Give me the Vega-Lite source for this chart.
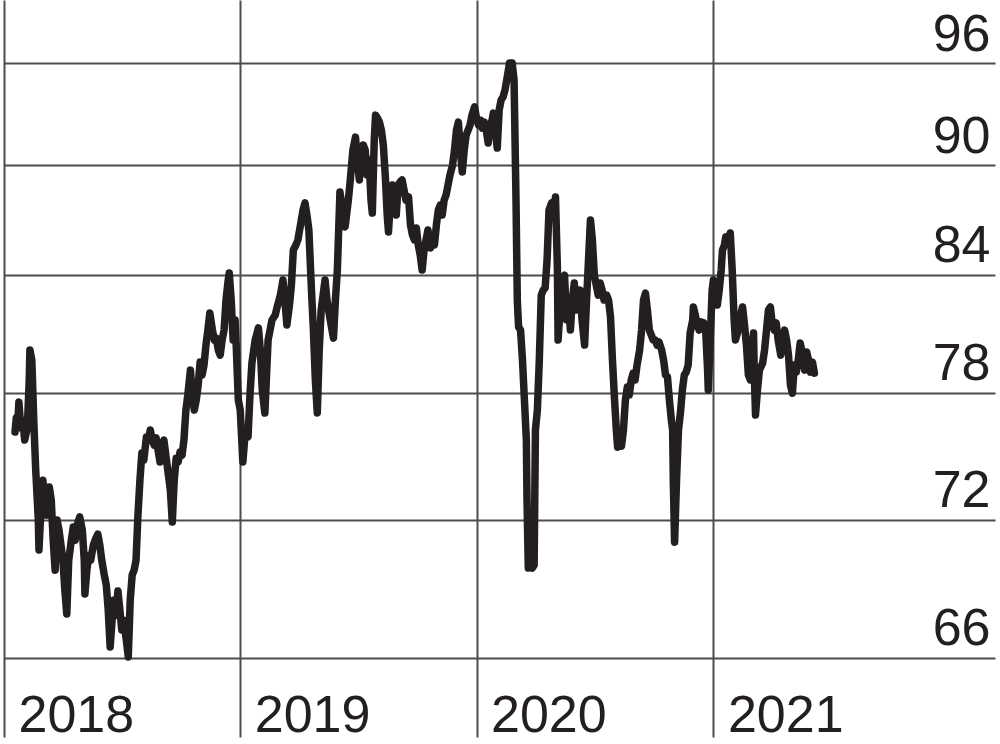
{
  "$schema": "https://vega.github.io/schema/vega-lite/v6.json",
  "width": 991,
  "height": 737,
  "autosize": {"type": "none"},
  "padding": {"left": 4, "top": 0, "right": 5, "bottom": 7},
  "background": "#ffffff",
  "config": {
    "view": {"stroke": null},
    "font": "Liberation Sans"
  },
  "data": {"values": [
    {"date":"2018-01-18","value":76.08},{"date":"2018-01-20","value":76.76},{"date":"2018-01-23","value":76.90},{"date":"2018-01-24","value":77.53},
    {"date":"2018-01-27","value":76.28},{"date":"2018-01-30","value":76.66},{"date":"2018-02-02","value":75.70},{"date":"2018-02-06","value":76.28},
    {"date":"2018-02-09","value":78.62},{"date":"2018-02-10","value":80.12},{"date":"2018-02-13","value":79.61},{"date":"2018-02-16","value":76.66},
    {"date":"2018-02-19","value":74.28},{"date":"2018-02-23","value":71.98},{"date":"2018-02-24","value":70.63},{"date":"2018-02-27","value":72.43},
    {"date":"2018-03-02","value":73.81},{"date":"2018-03-05","value":72.89},{"date":"2018-03-08","value":72.20},{"date":"2018-03-12","value":73.49},
    {"date":"2018-03-15","value":72.89},{"date":"2018-03-18","value":71.07},{"date":"2018-03-21","value":69.74},{"date":"2018-03-24","value":71.98},
    {"date":"2018-03-27","value":71.52},{"date":"2018-03-30","value":70.85},{"date":"2018-04-02","value":70.18},{"date":"2018-04-05","value":68.87},
    {"date":"2018-04-08","value":67.84},{"date":"2018-04-11","value":70.18},{"date":"2018-04-15","value":71.07},{"date":"2018-04-18","value":71.66},
    {"date":"2018-04-21","value":71.07},{"date":"2018-04-24","value":71.75},{"date":"2018-04-28","value":72.12},{"date":"2018-05-02","value":71.52},
    {"date":"2018-05-05","value":70.18},{"date":"2018-05-06","value":68.70},{"date":"2018-05-09","value":69.74},{"date":"2018-05-12","value":70.40},
    {"date":"2018-05-15","value":70.18},{"date":"2018-05-19","value":70.85},{"date":"2018-05-23","value":71.16},{"date":"2018-05-26","value":71.34},
    {"date":"2018-05-29","value":70.85},{"date":"2018-06-01","value":70.18},{"date":"2018-06-05","value":69.52},{"date":"2018-06-08","value":69.09},
    {"date":"2018-06-11","value":68.01},{"date":"2018-06-14","value":66.44},{"date":"2018-06-17","value":67.58},{"date":"2018-06-20","value":68.44},
    {"date":"2018-06-23","value":67.79},{"date":"2018-06-26","value":68.83},{"date":"2018-06-29","value":68.01},{"date":"2018-07-02","value":67.16},
    {"date":"2018-07-05","value":67.58},{"date":"2018-07-09","value":66.73},{"date":"2018-07-12","value":66.03},{"date":"2018-07-15","value":68.44},
    {"date":"2018-07-18","value":69.52},{"date":"2018-07-21","value":69.74},{"date":"2018-07-24","value":70.18},{"date":"2018-07-27","value":72.25},
    {"date":"2018-07-30","value":73.81},{"date":"2018-08-02","value":75.08},{"date":"2018-08-05","value":74.75},{"date":"2018-08-09","value":75.84},
    {"date":"2018-08-12","value":75.70},{"date":"2018-08-15","value":76.18},{"date":"2018-08-18","value":75.70},{"date":"2018-08-21","value":75.46},
    {"date":"2018-08-24","value":75.80},{"date":"2018-08-27","value":75.22},{"date":"2018-08-30","value":74.66},{"date":"2018-09-02","value":75.46},
    {"date":"2018-09-05","value":75.70},{"date":"2018-09-08","value":74.98},{"date":"2018-09-11","value":74.28},{"date":"2018-09-15","value":73.35},
    {"date":"2018-09-18","value":71.89},{"date":"2018-09-21","value":73.81},{"date":"2018-09-24","value":74.84},{"date":"2018-09-27","value":74.66},
    {"date":"2018-09-30","value":75.13},{"date":"2018-10-03","value":74.98},{"date":"2018-10-06","value":75.70},{"date":"2018-10-09","value":77.14},
    {"date":"2018-10-12","value":77.88},{"date":"2018-10-16","value":79.11},{"date":"2018-10-19","value":77.88},{"date":"2018-10-22","value":77.14},
    {"date":"2018-10-25","value":77.63},{"date":"2018-10-28","value":78.37},{"date":"2018-10-31","value":79.51},{"date":"2018-11-03","value":78.87},
    {"date":"2018-11-06","value":79.36},{"date":"2018-11-09","value":80.37},{"date":"2018-11-12","value":81.13},{"date":"2018-11-15","value":82.01},
    {"date":"2018-11-19","value":81.13},{"date":"2018-11-22","value":80.62},{"date":"2018-11-25","value":80.72},{"date":"2018-11-28","value":80.12},
    {"date":"2018-12-01","value":79.86},{"date":"2018-12-04","value":80.62},{"date":"2018-12-07","value":81.13},{"date":"2018-12-10","value":82.68},
    {"date":"2018-12-13","value":83.62},{"date":"2018-12-15","value":84.10},{"date":"2018-12-18","value":82.68},{"date":"2018-12-21","value":80.62},
    {"date":"2018-12-24","value":81.65},{"date":"2018-12-26","value":80.12},{"date":"2018-12-29","value":77.63},{"date":"2019-01-01","value":77.14},
    {"date":"2019-01-05","value":74.66},{"date":"2019-01-09","value":76.18},{"date":"2019-01-13","value":75.84},{"date":"2019-01-16","value":77.88},
    {"date":"2019-01-19","value":79.46},{"date":"2019-01-24","value":80.62},{"date":"2019-01-29","value":81.24},{"date":"2019-02-01","value":80.12},
    {"date":"2019-02-04","value":78.12},{"date":"2019-02-08","value":77.00},{"date":"2019-02-13","value":80.62},{"date":"2019-02-16","value":81.13},
    {"date":"2019-02-19","value":81.65},{"date":"2019-02-24","value":81.90},{"date":"2019-02-27","value":82.32},{"date":"2019-03-04","value":82.94},
    {"date":"2019-03-08","value":83.73},{"date":"2019-03-11","value":82.68},{"date":"2019-03-14","value":81.39},{"date":"2019-03-18","value":82.42},
    {"date":"2019-03-21","value":83.46},{"date":"2019-03-24","value":85.33},{"date":"2019-03-28","value":85.60},{"date":"2019-03-31","value":85.87},
    {"date":"2019-04-04","value":86.68},{"date":"2019-04-08","value":87.51},{"date":"2019-04-11","value":87.90},{"date":"2019-04-14","value":87.23},
    {"date":"2019-04-17","value":86.41},{"date":"2019-04-21","value":83.20},{"date":"2019-04-24","value":81.13},{"date":"2019-04-27","value":78.62},
    {"date":"2019-04-30","value":77.00},{"date":"2019-05-03","value":80.12},{"date":"2019-05-06","value":82.16},{"date":"2019-05-09","value":82.94},
    {"date":"2019-05-12","value":83.73},{"date":"2019-05-15","value":82.68},{"date":"2019-05-20","value":81.65},{"date":"2019-05-25","value":80.72},
    {"date":"2019-05-28","value":82.68},{"date":"2019-05-31","value":84.26},{"date":"2019-06-04","value":88.51},{"date":"2019-06-09","value":87.23},
    {"date":"2019-06-12","value":86.58},{"date":"2019-06-17","value":88.06},{"date":"2019-06-20","value":89.18},{"date":"2019-06-24","value":90.88},
    {"date":"2019-06-28","value":91.62},{"date":"2019-07-01","value":90.31},{"date":"2019-07-04","value":89.18},{"date":"2019-07-07","value":90.31},
    {"date":"2019-07-10","value":91.17},{"date":"2019-07-13","value":90.88},{"date":"2019-07-16","value":89.46},{"date":"2019-07-19","value":90.31},
    {"date":"2019-07-22","value":88.06},{"date":"2019-07-24","value":87.34},{"date":"2019-07-27","value":91.45},{"date":"2019-07-29","value":92.90},
    {"date":"2019-08-01","value":92.73},{"date":"2019-08-04","value":92.49},{"date":"2019-08-07","value":92.03},{"date":"2019-08-10","value":91.17},
    {"date":"2019-08-13","value":89.46},{"date":"2019-08-16","value":87.23},{"date":"2019-08-18","value":86.30},{"date":"2019-08-21","value":88.06},
    {"date":"2019-08-24","value":88.90},{"date":"2019-08-27","value":87.78},{"date":"2019-08-30","value":87.23},{"date":"2019-09-02","value":88.90},
    {"date":"2019-09-05","value":89.07},{"date":"2019-09-08","value":89.18},{"date":"2019-09-11","value":88.62},{"date":"2019-09-14","value":88.06},
    {"date":"2019-09-18","value":88.23},{"date":"2019-09-21","value":86.68},{"date":"2019-09-24","value":86.14},{"date":"2019-09-27","value":85.87},
    {"date":"2019-09-30","value":86.52},{"date":"2019-10-03","value":85.60},{"date":"2019-10-06","value":85.06},{"date":"2019-10-09","value":84.26},
    {"date":"2019-10-12","value":85.33},{"date":"2019-10-15","value":85.87},{"date":"2019-10-18","value":86.41},{"date":"2019-10-22","value":85.44},
    {"date":"2019-10-25","value":85.87},{"date":"2019-10-28","value":85.60},{"date":"2019-10-31","value":86.68},{"date":"2019-11-03","value":87.51},
    {"date":"2019-11-06","value":87.78},{"date":"2019-11-09","value":87.23},{"date":"2019-11-12","value":88.06},{"date":"2019-11-15","value":88.34},
    {"date":"2019-11-18","value":88.90},{"date":"2019-11-21","value":89.46},{"date":"2019-11-25","value":90.02},{"date":"2019-11-28","value":90.88},
    {"date":"2019-12-01","value":92.03},{"date":"2019-12-04","value":92.49},{"date":"2019-12-07","value":90.88},{"date":"2019-12-10","value":89.63},
    {"date":"2019-12-13","value":90.88},{"date":"2019-12-16","value":91.74},{"date":"2019-12-19","value":92.03},{"date":"2019-12-22","value":92.32},
    {"date":"2019-12-25","value":92.90},{"date":"2019-12-29","value":93.38},{"date":"2020-01-01","value":92.73},{"date":"2020-01-04","value":92.32},
    {"date":"2020-01-07","value":92.61},{"date":"2020-01-10","value":92.14},{"date":"2020-01-13","value":92.49},{"date":"2020-01-16","value":92.03},
    {"date":"2020-01-19","value":91.28},{"date":"2020-01-22","value":92.32},{"date":"2020-01-25","value":92.61},{"date":"2020-01-27","value":93.02},
    {"date":"2020-01-30","value":92.03},{"date":"2020-02-02","value":90.99},{"date":"2020-02-05","value":93.20},{"date":"2020-02-08","value":93.79},
    {"date":"2020-02-11","value":93.97},{"date":"2020-02-14","value":94.38},{"date":"2020-02-18","value":95.28},{"date":"2020-02-21","value":96.00},
    {"date":"2020-02-25","value":96.00},{"date":"2020-02-28","value":94.98},{"date":"2020-03-02","value":88.06},{"date":"2020-03-04","value":82.68},
    {"date":"2020-03-06","value":81.29},{"date":"2020-03-09","value":81.13},{"date":"2020-03-12","value":79.61},{"date":"2020-03-15","value":77.63},
    {"date":"2020-03-18","value":75.70},{"date":"2020-03-19","value":72.89},{"date":"2020-03-21","value":69.83},{"date":"2020-03-24","value":69.92},
    {"date":"2020-03-27","value":69.83},{"date":"2020-03-30","value":69.96},{"date":"2020-04-01","value":76.18},{"date":"2020-04-04","value":77.14},
    {"date":"2020-04-07","value":79.61},{"date":"2020-04-10","value":82.94},{"date":"2020-04-13","value":83.20},{"date":"2020-04-16","value":83.31},
    {"date":"2020-04-19","value":84.79},{"date":"2020-04-22","value":87.51},{"date":"2020-04-26","value":87.90},{"date":"2020-04-29","value":87.23},
    {"date":"2020-05-02","value":88.23},{"date":"2020-05-05","value":84.26},{"date":"2020-05-06","value":80.62},{"date":"2020-05-09","value":82.16},
    {"date":"2020-05-13","value":83.73},{"date":"2020-05-16","value":83.99},{"date":"2020-05-19","value":81.65},{"date":"2020-05-22","value":82.68},
    {"date":"2020-05-25","value":81.13},{"date":"2020-05-28","value":82.68},{"date":"2020-05-31","value":83.57},{"date":"2020-06-03","value":82.16},
    {"date":"2020-06-06","value":82.68},{"date":"2020-06-09","value":83.20},{"date":"2020-06-12","value":81.65},{"date":"2020-06-16","value":80.37},
    {"date":"2020-06-19","value":82.68},{"date":"2020-06-22","value":84.79},{"date":"2020-06-25","value":86.96},{"date":"2020-06-28","value":85.87},
    {"date":"2020-07-01","value":83.99},{"date":"2020-07-04","value":83.46},{"date":"2020-07-07","value":82.94},{"date":"2020-07-10","value":83.57},
    {"date":"2020-07-13","value":83.20},{"date":"2020-07-16","value":82.68},{"date":"2020-07-20","value":82.94},{"date":"2020-07-23","value":82.68},
    {"date":"2020-07-26","value":81.80},{"date":"2020-07-29","value":79.61},{"date":"2020-08-01","value":77.78},{"date":"2020-08-04","value":76.18},
    {"date":"2020-08-06","value":75.36},{"date":"2020-08-09","value":75.46},{"date":"2020-08-12","value":75.41},{"date":"2020-08-15","value":76.18},
    {"date":"2020-08-18","value":77.63},{"date":"2020-08-21","value":78.27},{"date":"2020-08-24","value":77.88},{"date":"2020-08-27","value":78.62},
    {"date":"2020-08-30","value":78.96},{"date":"2020-09-02","value":78.62},{"date":"2020-09-05","value":79.36},{"date":"2020-09-09","value":80.12},
    {"date":"2020-09-12","value":81.13},{"date":"2020-09-15","value":82.68},{"date":"2020-09-18","value":83.04},{"date":"2020-09-21","value":82.16},
    {"date":"2020-09-24","value":81.13},{"date":"2020-09-27","value":80.88},{"date":"2020-09-30","value":80.62},{"date":"2020-10-03","value":80.62},
    {"date":"2020-10-06","value":80.37},{"date":"2020-10-09","value":80.52},{"date":"2020-10-13","value":80.12},{"date":"2020-10-16","value":79.61},
    {"date":"2020-10-19","value":78.87},{"date":"2020-10-22","value":78.77},{"date":"2020-10-25","value":77.63},{"date":"2020-10-28","value":76.66},
    {"date":"2020-10-30","value":76.18},{"date":"2020-10-31","value":73.81},{"date":"2020-11-02","value":70.98},{"date":"2020-11-05","value":73.81},
    {"date":"2020-11-08","value":76.18},{"date":"2020-11-11","value":77.00},{"date":"2020-11-14","value":78.12},{"date":"2020-11-17","value":78.87},
    {"date":"2020-11-20","value":79.01},{"date":"2020-11-23","value":79.36},{"date":"2020-11-26","value":80.98},{"date":"2020-11-30","value":81.65},
    {"date":"2020-12-01","value":82.32},{"date":"2020-12-04","value":81.90},{"date":"2020-12-07","value":81.39},{"date":"2020-12-10","value":81.13},
    {"date":"2020-12-13","value":81.55},{"date":"2020-12-17","value":81.50},{"date":"2020-12-20","value":81.13},{"date":"2020-12-23","value":79.11},
    {"date":"2020-12-24","value":78.12},{"date":"2020-12-27","value":80.62},{"date":"2020-12-30","value":83.20},{"date":"2021-01-01","value":83.73},
    {"date":"2021-01-04","value":83.46},{"date":"2021-01-07","value":82.42},{"date":"2021-01-10","value":83.20},{"date":"2021-01-13","value":84.26},
    {"date":"2021-01-15","value":85.33},{"date":"2021-01-18","value":85.60},{"date":"2021-01-20","value":86.03},{"date":"2021-01-23","value":85.87},
    {"date":"2021-01-26","value":86.09},{"date":"2021-01-27","value":86.25},{"date":"2021-01-30","value":84.26},{"date":"2021-02-02","value":81.65},
    {"date":"2021-02-04","value":80.62},{"date":"2021-02-07","value":80.98},{"date":"2021-02-12","value":81.90},{"date":"2021-02-15","value":82.32},
    {"date":"2021-02-18","value":81.39},{"date":"2021-02-21","value":80.37},{"date":"2021-02-24","value":78.87},{"date":"2021-02-27","value":78.62},
    {"date":"2021-03-02","value":80.12},{"date":"2021-03-04","value":80.98},{"date":"2021-03-05","value":79.11},{"date":"2021-03-07","value":76.90},
    {"date":"2021-03-10","value":78.12},{"date":"2021-03-13","value":79.11},{"date":"2021-03-18","value":79.46},{"date":"2021-03-21","value":80.12},
    {"date":"2021-03-24","value":81.13},{"date":"2021-03-27","value":82.16},{"date":"2021-03-30","value":82.32},{"date":"2021-04-02","value":81.39},
    {"date":"2021-04-05","value":81.13},{"date":"2021-04-08","value":81.50},{"date":"2021-04-11","value":80.62},{"date":"2021-04-15","value":79.86},
    {"date":"2021-04-18","value":80.62},{"date":"2021-04-21","value":81.13},{"date":"2021-04-24","value":80.62},{"date":"2021-04-27","value":79.86},
    {"date":"2021-04-30","value":78.37},{"date":"2021-05-03","value":77.97},{"date":"2021-05-06","value":79.36},{"date":"2021-05-09","value":79.01},
    {"date":"2021-05-12","value":79.61},{"date":"2021-05-15","value":80.47},{"date":"2021-05-19","value":79.86},{"date":"2021-05-22","value":79.11},
    {"date":"2021-05-25","value":80.02},{"date":"2021-05-28","value":79.61},{"date":"2021-05-31","value":79.01},{"date":"2021-06-03","value":79.51},
    {"date":"2021-06-06","value":78.96}
  ]},
  "mark": {"type": "line", "color": "#231f20", "strokeWidth": 7.5, "strokeJoin": "round", "strokeCap": "round"},
  "encoding": {
    "x": {
      "field": "date",
      "type": "temporal",
      "scale": {
        "type": "utc",
        "domain": [{"year": 2018, "month": 1, "date": 1, "utc": true}, {"year": 2022, "month": 3, "date": 12, "utc": true}],
        "nice": false
      },
      "axis": {
        "title": null,
        "orient": "bottom",
        "values": [
          {"year": 2018, "month": 1, "date": 1, "utc": true},
          {"year": 2019, "month": 1, "date": 1, "utc": true},
          {"year": 2020, "month": 1, "date": 1, "utc": true},
          {"year": 2021, "month": 1, "date": 1, "utc": true}
        ],
        "format": "%Y",
        "domain": false,
        "ticks": false,
        "tickSize": 0,
        "grid": true,
        "gridColor": "#4d4d4d",
        "gridWidth": 2,
        "gridOpacity": 1,
        "labelAlign": "left",
        "labelBaseline": "alphabetic",
        "labelPadding": -6,
        "labelOffset": 14,
        "labelFlush": false,
        "labelOverlap": false,
        "labelFont": "Liberation Sans",
        "labelFontSize": 52,
        "labelColor": "#231f20"
      }
    },
    "y": {
      "field": "value",
      "type": "quantitative",
      "scale": {"type": "log", "domain": [62.78, 99.89], "nice": false, "zero": false},
      "axis": {
        "title": null,
        "orient": "right",
        "values": [66, 72, 78, 84, 90, 96],
        "domain": false,
        "ticks": false,
        "tickSize": 0,
        "grid": true,
        "gridColor": "#4d4d4d",
        "gridWidth": 2,
        "gridOpacity": 1,
        "labelAlign": "right",
        "labelBaseline": "alphabetic",
        "labelPadding": -5,
        "labelOffset": -13,
        "labelFlush": false,
        "labelOverlap": false,
        "labelFont": "Liberation Sans",
        "labelFontSize": 52,
        "labelColor": "#231f20"
      }
    }
  }
}
